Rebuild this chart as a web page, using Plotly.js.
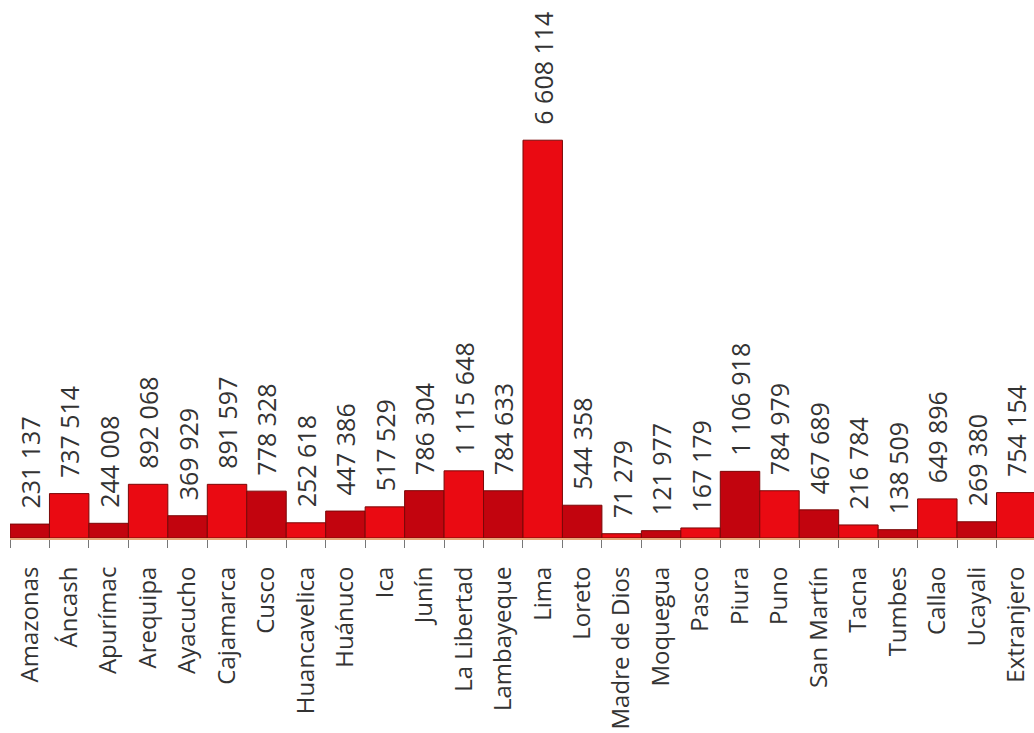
<!DOCTYPE html>
<html>
<head>
<meta charset="utf-8">
<script src="https://cdn.plot.ly/plotly-3.0.1.min.js"></script>
<style>html,body{margin:0;padding:0;background:#fff;}#chart{width:1034px;height:733px;}</style>
</head>
<body>
<div id="chart"></div>
<script>
const regions = ["Amazonas","Áncash","Apurímac","Arequipa","Ayacucho","Cajamarca","Cusco","Huancavelica","Huánuco","Ica","Junín","La Libertad","Lambayeque","Lima","Loreto","Madre de Dios","Moquegua","Pasco","Piura","Puno","San Martín","Tacna","Tumbes","Callao","Ucayali","Extranjero"];
const population = [231137,737514,244008,892068,369929,891597,778328,252618,447386,517529,786304,1115648,784633,6608114,544358,71279,121977,167179,1106918,784979,467689,216784,138509,649896,269380,754154];

const darkRed = '#c2040e';
const brightRed = '#ea0a12';
const barColors = regions.map((_, i) => i % 2 === 0 ? darkRed : brightRed);

const trace = {
  type: 'bar',
  x: regions,
  y: population,
  marker: {color: barColors, line: {color: '#7a0808', width: 1}},
  texttemplate: '\u2002%{y:,}',
  textposition: 'outside',
  textangle: -90,
  constraintext: 'none',
  cliponaxis: false,
  textfont: {family: 'Open Sans', size: 25, color: '#333333'},
  hoverinfo: 'none'
};

const layout = {
  width: 1034,
  height: 733,
  margin: {l: 10, r: 0, t: 0, b: 195},
  paper_bgcolor: '#ffffff',
  plot_bgcolor: '#ffffff',
  separators: '. ',
  bargap: 0,
  showlegend: false,
  font: {family: 'Open Sans', size: 24, color: '#333333'},
  xaxis: {
    type: 'category',
    range: [-0.5, 25.45],
    tickangle: -90,
    tickson: 'boundaries',
    ticks: 'outside',
    ticklen: 8,
    tickwidth: 1,
    tickcolor: '#777777',
    ticklabelstandoff: 17,
    showline: true,
    linecolor: '#e8a878',
    linewidth: 2,
    showgrid: false,
    zeroline: false,
    tickfont: {family: 'Open Sans', size: 24, color: '#333333'},
    automargin: false
  },
  yaxis: {
    visible: false,
    range: [0, 8937000],
    showgrid: false,
    zeroline: false,
    fixedrange: true
  }
};

Plotly.newPlot('chart', [trace], layout, {displayModeBar: false, staticPlot: true});
</script>
</body>
</html>
